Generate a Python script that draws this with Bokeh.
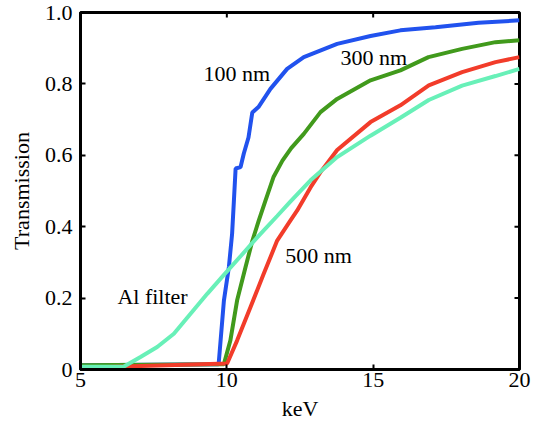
from bokeh.plotting import figure
from bokeh.models import Range1d, Label, FixedTicker, CustomJSTickFormatter
from bokeh.embed import file_html
from bokeh.resources import INLINE

# ---- data ----
x_100 = [5.0, 9.72, 9.9, 10.07, 10.18, 10.24, 10.30, 10.47, 10.58, 10.74, 10.87, 11.08, 11.49,
         12.06, 12.63, 13.77, 14.91, 15.93, 17.13, 18.6, 20.0]
y_100 = [0.012, 0.015, 0.193, 0.287, 0.38, 0.47, 0.563, 0.567, 0.605, 0.65, 0.72, 0.735, 0.786,
         0.842, 0.875, 0.912, 0.934, 0.95, 0.959, 0.971, 0.978]

x_300 = [5.0, 9.9, 10.12, 10.35, 10.64, 10.87, 11.09, 11.32, 11.6, 11.9, 12.2, 12.63, 13.2,
         13.77, 14.91, 15.93, 16.89, 18.04, 19.18, 20.0]
y_300 = [0.012, 0.015, 0.081, 0.193, 0.287, 0.36, 0.417, 0.473, 0.54, 0.585, 0.62, 0.66, 0.721,
         0.758, 0.81, 0.838, 0.875, 0.898, 0.917, 0.922]

x_500 = [5.0, 10.01, 10.35, 10.81, 11.26, 11.72, 12.17, 12.4, 12.86, 13.2, 13.77, 14.91, 15.93,
         16.9, 18.04, 19.18, 20.0]
y_500 = [0.005, 0.017, 0.081, 0.175, 0.268, 0.361, 0.417, 0.445, 0.51, 0.553, 0.615, 0.693, 0.74,
         0.796, 0.833, 0.861, 0.875]

x_al = [5.0, 6.47, 7.05, 7.62, 8.19, 8.76, 9.33, 9.9, 10.5, 11.04, 11.72, 12.17, 12.86, 13.77,
        14.91, 15.93, 16.9, 18.04, 19.18, 20.0]
y_al = [0.008, 0.008, 0.035, 0.063, 0.1, 0.156, 0.212, 0.265, 0.32, 0.37, 0.43, 0.47, 0.53, 0.595,
        0.655, 0.705, 0.755, 0.795, 0.822, 0.842]

x_ticks = [5, 10, 15, 20]
y_ticks = [0, 0.2, 0.4, 0.6, 0.8, 1.0]

labels = ["100 nm", "300 nm", "500 nm", "Al filter"]
label_x = [9.2, 13.88, 12.0, 6.26]
label_y = [0.829, 0.874, 0.32, 0.205]

FONT = "Liberation Serif"
FS = "22px"
X0, X1 = x_ticks[0], x_ticks[-1]
Y0, Y1 = y_ticks[0], y_ticks[-1]

p = figure(frame_width=439, frame_height=357, output_backend="svg", toolbar_location=None,
           x_range=Range1d(X0, X1), y_range=Range1d(Y0, Y1),
           min_border_left=80, min_border_right=16, min_border_top=12, min_border_bottom=57)
p.grid.visible = False
p.background_fill_color = "white"
p.border_fill_color = "white"
p.outline_line_color = "black"
p.outline_line_width = 3

p.line(x_100, y_100, line_color="#2152ee", line_width=4)
p.line(x_300, y_300, line_color="#419a1c", line_width=4)
p.line(x_500, y_500, line_color="#f23c2a", line_width=4)
p.line(x_al, y_al, line_color="#68f0b8", line_width=4)

# inward tick marks on the top and right frame edges (outer half clipped by the frame)
p.scatter(x=x_ticks[1:-1], y=[Y1] * len(x_ticks[1:-1]), marker="dash", angle=1.5708,
          size=10, line_color="black", line_width=2)
p.scatter(x=[X1] * len(y_ticks[1:-1]), y=y_ticks[1:-1], marker="dash",
          size=10, line_color="black", line_width=2)

def style_axis(ax):
    ax.axis_line_color = "black"
    ax.axis_line_width = 3
    ax.major_tick_in = 5
    ax.major_tick_out = 0
    ax.major_tick_line_width = 2
    ax.minor_tick_line_color = None
    ax.major_label_text_font = FONT
    ax.major_label_text_font_size = FS
    ax.major_label_text_color = "black"
    ax.axis_label_text_font = FONT
    ax.axis_label_text_font_size = FS
    ax.axis_label_text_font_style = "normal"
    ax.axis_label_text_color = "black"

xa = p.xaxis[0]
style_axis(xa)
xa.ticker = FixedTicker(ticks=x_ticks)
xa.axis_label = "keV"
xa.major_label_standoff = 3
xa.axis_label_standoff = 6

ya = p.yaxis[0]
style_axis(ya)
ya.ticker = FixedTicker(ticks=y_ticks)
ya.formatter = CustomJSTickFormatter(code="return tick == 0 ? '0' : tick.toFixed(1);")
ya.axis_label = "Transmission"
ya.major_label_standoff = 8
ya.axis_label_standoff = 8

for t, lx, ly in zip(labels, label_x, label_y):
    p.add_layout(Label(x=lx, y=ly, text=t, text_font=FONT, text_font_size=FS,
                       text_align="left", text_baseline="middle", text_color="black"))

open("out.html", "w").write(file_html(p, INLINE))
